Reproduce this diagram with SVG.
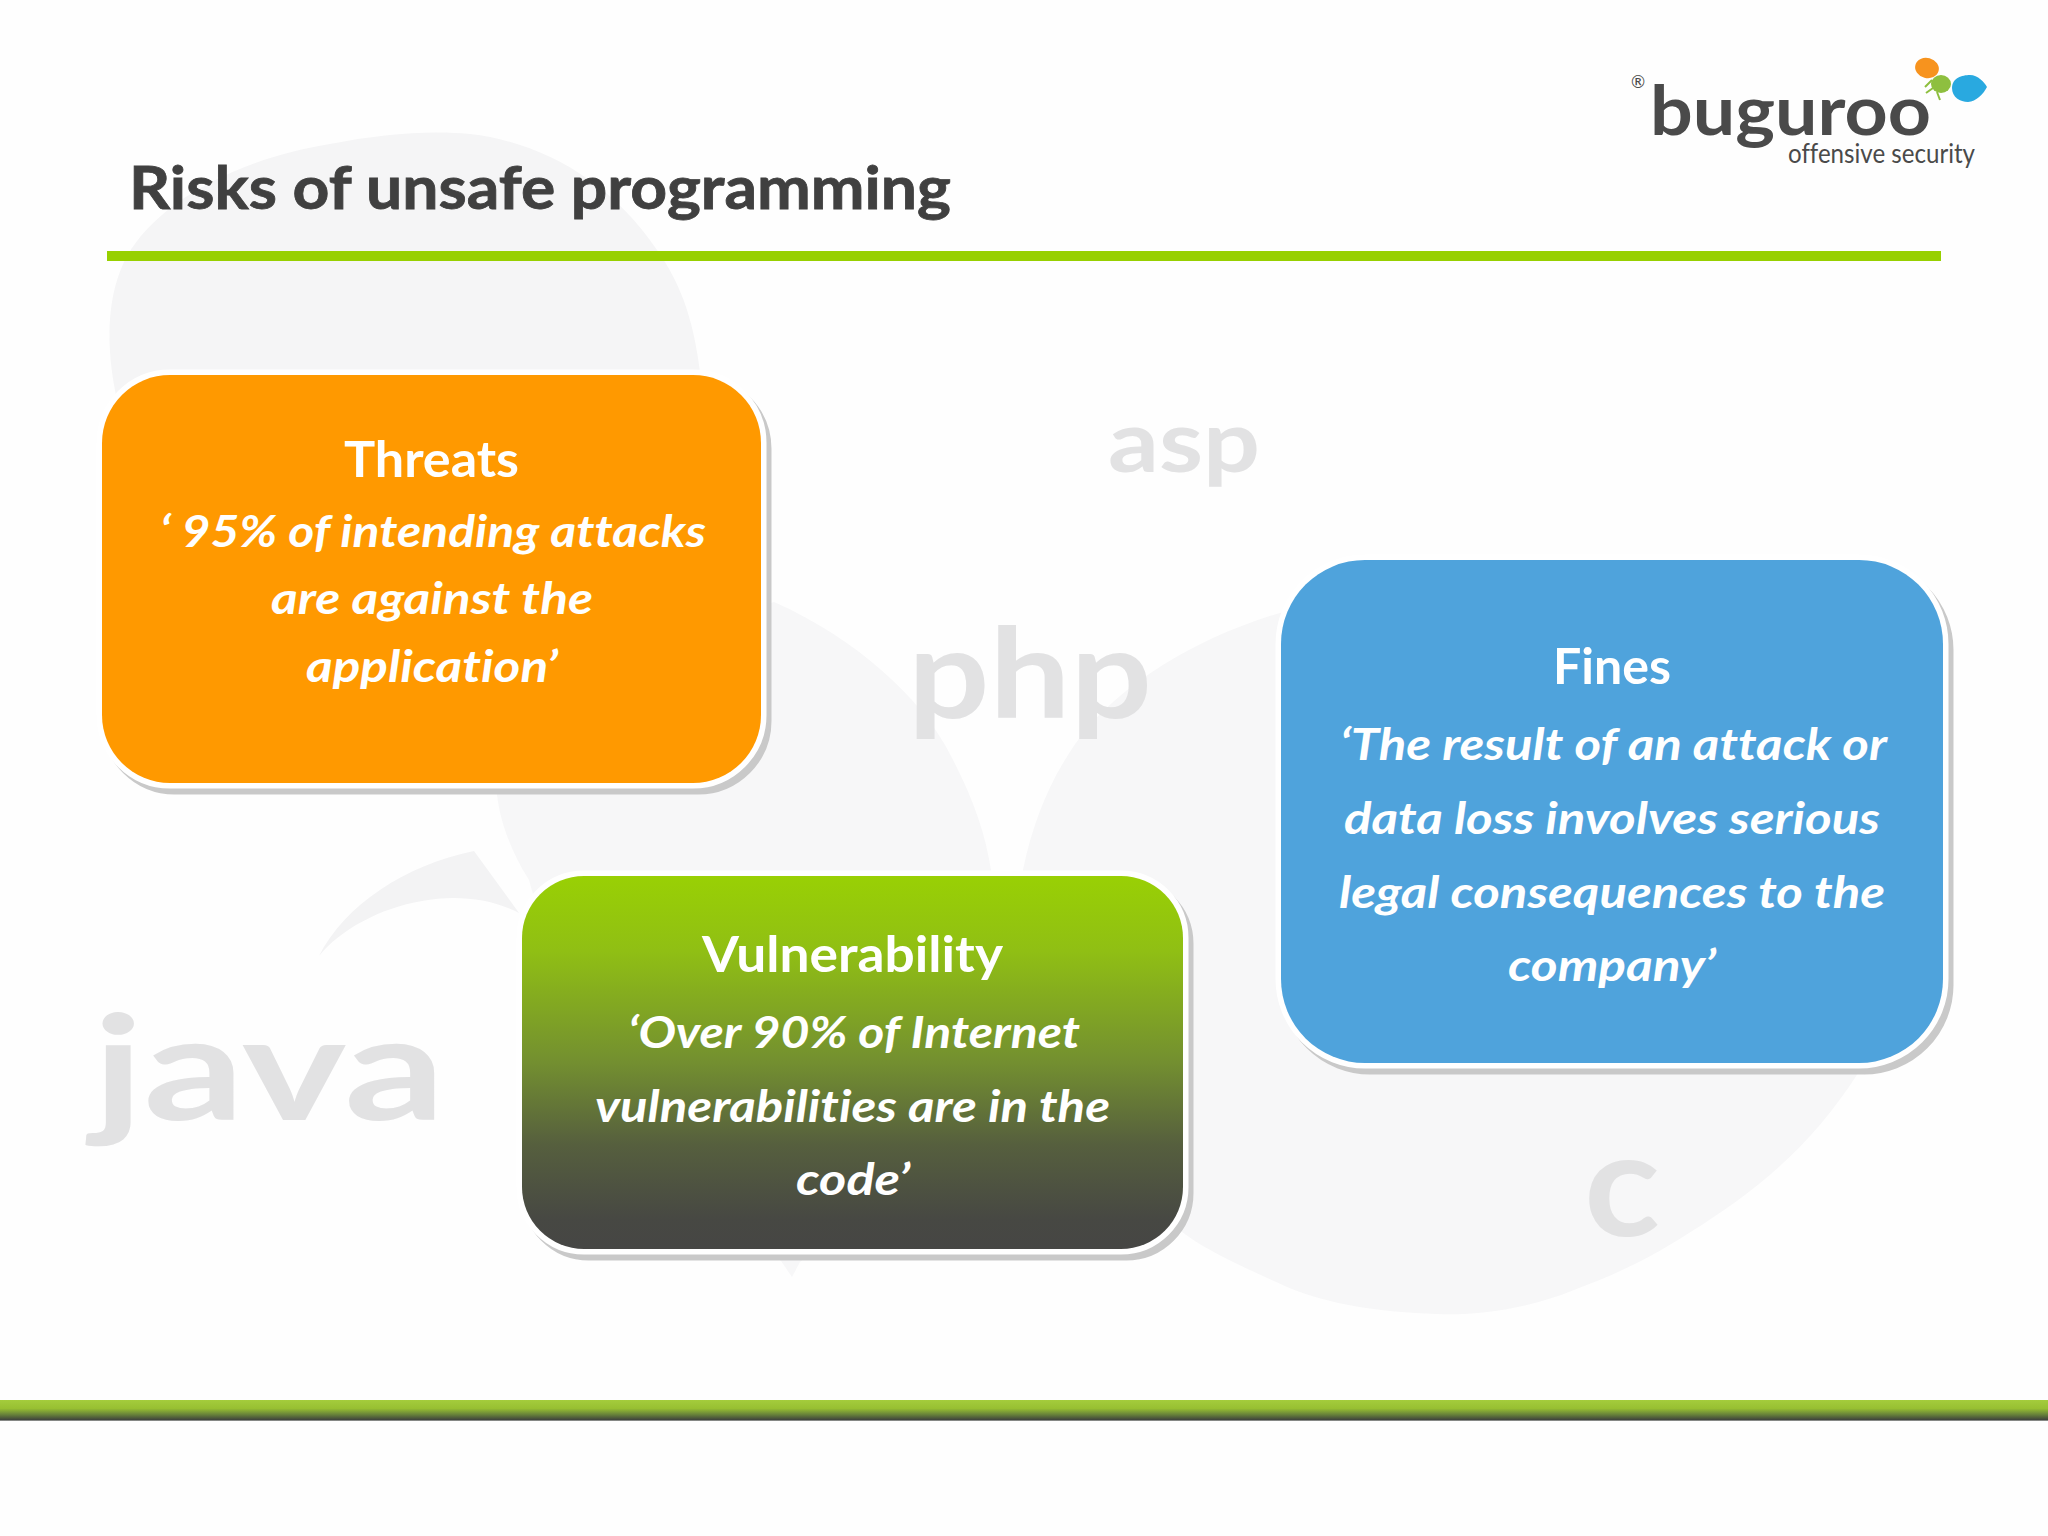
<svg xmlns="http://www.w3.org/2000/svg" width="2048" height="1536" viewBox="0 0 2048 1536">
<style>
text{font-variant-ligatures:none}
.bg{fill:#f7f7f8}
.lt{fill:#e2e2e3;font-family:"Lato","Open Sans",sans-serif;font-weight:700}
.h{fill:#fff;font-family:"Lato","Liberation Sans",sans-serif;font-weight:700;font-size:49px}
.b{fill:#fff;font-family:"Lato","Liberation Sans",sans-serif;font-weight:700;font-style:italic;font-size:44px}
.sh{fill:#c9c9c9;stroke:#c9c9c9;stroke-width:11}
.card{stroke:#fff;stroke-width:11;paint-order:stroke}
.logo{fill:#4a4a4a;font-family:"Lato","Open Sans",sans-serif}
</style>
<defs>
<linearGradient id="gv" x1="0" y1="0" x2="0" y2="1">
<stop offset="0" stop-color="#99d004"/><stop offset="0.2" stop-color="#90bf14"/><stop offset="0.5" stop-color="#738f30"/><stop offset="0.72" stop-color="#565f3e"/><stop offset="0.92" stop-color="#474843"/><stop offset="1" stop-color="#464644"/>
</linearGradient>
<linearGradient id="gb" x1="0" y1="0" x2="0" y2="1">
<stop offset="0" stop-color="#a4cc3c"/><stop offset="0.4" stop-color="#98c032"/><stop offset="0.7" stop-color="#66803a"/><stop offset="0.95" stop-color="#3e423c"/><stop offset="1" stop-color="#c8c8c8"/>
</linearGradient>
</defs>
<rect width="2048" height="1536" fill="#fefefe"/>
<g id="background">
<path fill="#f5f5f6" d="M117,400 C106,350 106,300 124,262 C150,208 230,160 330,144 C380,134 430,130 470,134 C540,142 610,180 657,250 C685,290 697,330 703,400 Z"/>
<path class="bg" d="M774,602 C860,640 920,700 945,745 C970,790 985,830 991,870 L1000,1100 L800,1262 L792,1277 L781,1261 C700,1180 560,1000 529,880 C510,850 500,820 497,795 L500,700 Z"/>
<path class="bg" d="M1023,870 C1035,810 1060,760 1090,725 C1130,680 1200,635 1290,610 L1860,1070 C1810,1150 1750,1195 1689,1233 C1640,1265 1600,1280 1574,1290 C1530,1308 1480,1316 1436,1314 C1380,1312 1330,1305 1287,1287 C1250,1270 1215,1255 1189,1237 L1000,1100 Z"/>
<path fill="#f3f3f4" d="M319,956 C345,905 405,865 474,851 L519,913 C490,898 455,895 422,901 C380,908 340,930 319,956 Z"/>
</g>
<g id="lang-java"><text class="lt" x="93" y="1120" font-size="146" textLength="352" lengthAdjust="spacingAndGlyphs">java</text></g>
<g id="lang-php"><text class="lt" x="908" y="718" font-size="125" textLength="244" lengthAdjust="spacingAndGlyphs">php</text></g>
<g id="lang-asp"><text class="lt" x="1108" y="472" font-size="87" textLength="152" lengthAdjust="spacingAndGlyphs">asp</text></g>
<g id="lang-c"><text class="lt" x="1584" y="1236" font-size="145" textLength="76" lengthAdjust="spacingAndGlyphs">c</text></g>
<g id="title">
<text x="129" y="209" font-family="Lato, 'Liberation Sans', sans-serif" font-weight="700" font-size="60" fill="#404040" stroke="#404040" stroke-width="0.8" textLength="822" lengthAdjust="spacingAndGlyphs">Risks of unsafe programming</text>
<rect x="107" y="251" width="1834" height="10" fill="#97d000"/>
</g>
<g id="logo">
<text class="logo" x="1631" y="88" font-size="17">®</text>
<text class="logo" x="1650" y="135" font-size="68" font-weight="700" textLength="281" lengthAdjust="spacingAndGlyphs">buguroo</text>
<text class="logo" x="1788" y="163" font-size="26" font-weight="400" textLength="187" lengthAdjust="spacingAndGlyphs">offensive security</text>
<path fill="#8ebf3f" stroke="#8ebf3f" stroke-width="2" d="M1932,80 L1925,87 M1933,88 L1926,93 M1937,92 L1940,100"/>
<ellipse cx="1927" cy="68" rx="12" ry="10" fill="#f7931e" transform="rotate(15 1927 68)"/>
<path fill="#29a9e0" d="M1952,88 C1952,78 1962,75 1970,75 C1978,75 1984,82 1987,87 C1984,93 1976,102 1968,102 C1960,102 1952,97 1952,88 Z"/>
<ellipse cx="1941" cy="84" rx="10" ry="9" fill="#8ebf3f"/>
</g>
<g id="threats">
<rect class="sh" x="107" y="381" width="659" height="408" rx="68"/>
<rect class="card" x="102" y="375" width="659" height="408" rx="68" fill="#ff9900"/>
<text class="h" x="344" y="477" textLength="175" lengthAdjust="spacingAndGlyphs">Threats</text>
<text class="b" x="160" y="547" textLength="546" lengthAdjust="spacingAndGlyphs">‘ 95% of intending attacks</text>
<text class="b" x="271" y="614" textLength="322" lengthAdjust="spacingAndGlyphs">are against the</text>
<text class="b" x="306" y="682" textLength="252" lengthAdjust="spacingAndGlyphs">application’</text>
</g>
<g id="vulnerability">
<rect class="sh" x="527" y="882" width="661" height="373" rx="62"/>
<rect class="card" x="522" y="876" width="661" height="373" rx="62" fill="url(#gv)"/>
<text class="h" x="702" y="972" textLength="301" lengthAdjust="spacingAndGlyphs">Vulnerability</text>
<text class="b" x="628" y="1048" textLength="452" lengthAdjust="spacingAndGlyphs">‘Over 90% of Internet</text>
<text class="b" x="595" y="1122" textLength="515" lengthAdjust="spacingAndGlyphs">vulnerabilities are in the</text>
<text class="b" x="796" y="1195" textLength="114" lengthAdjust="spacingAndGlyphs">code’</text>
</g>
<g id="fines">
<rect class="sh" x="1286" y="566" width="662" height="503" rx="84"/>
<rect class="card" x="1281" y="560" width="662" height="503" rx="84" fill="#4fa3dc"/>
<text class="h" x="1553" y="684" textLength="118" lengthAdjust="spacingAndGlyphs">Fines</text>
<text class="b" x="1340" y="760" textLength="547" lengthAdjust="spacingAndGlyphs">‘The result of an attack or</text>
<text class="b" x="1344" y="834" textLength="536" lengthAdjust="spacingAndGlyphs">data loss involves serious</text>
<text class="b" x="1339" y="908" textLength="546" lengthAdjust="spacingAndGlyphs">legal consequences to the</text>
<text class="b" x="1508" y="981" textLength="208" lengthAdjust="spacingAndGlyphs">company’</text>
</g>
<g id="footer"><rect x="0" y="1400" width="2048" height="21" fill="url(#gb)"/></g>
</svg>
